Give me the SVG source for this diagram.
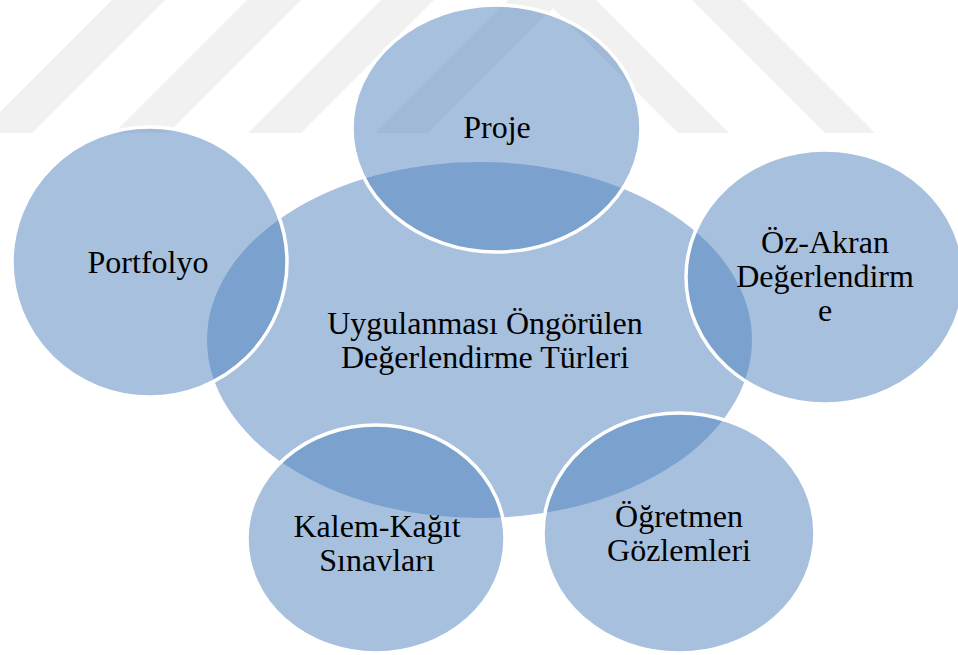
<svg xmlns="http://www.w3.org/2000/svg" width="958" height="655" viewBox="0 0 958 655">
  <style>
    .wm { fill: #F1F1F1; }
    .hub { fill: #4F81BD; fill-opacity: 0.5; }
    .sat { fill: #4F81BD; fill-opacity: 0.5; stroke: #FFFFFF; stroke-width: 3.5; }
    .lbl { font-family: "Liberation Serif", "Times New Roman", serif; font-size: 32px; fill: #000000; text-anchor: middle; }
  </style>
  <rect x="0" y="0" width="958" height="655" fill="#FFFFFF"/>
  <g id="watermark">
    <polygon class="wm" points="112,0 165,0 32,133 -21,133"/>
    <polygon class="wm" points="247,0 301,0 168,133 114,133"/>
    <polygon class="wm" points="381,0 434,0 301,133 248,133"/>
    <polygon class="wm" points="508,0 561,0 428,133 375,133"/>
    <polygon class="wm" points="545,0 596,0 729,133 678,133"/>
    <polygon class="wm" points="692,0 742,0 875,133 825,133"/>
  </g>
  <g id="hub">
    <ellipse class="hub" cx="479.5" cy="340" rx="272.5" ry="178"/>
    <text class="lbl" x="485" y="334">Uygulanması Öngörülen</text>
    <text class="lbl" x="485" y="368">Değerlendirme Türleri</text>
  </g>
  <g id="proje">
    <ellipse class="sat" cx="496.5" cy="128.5" rx="144.5" ry="123.5"/>
    <text class="lbl" x="497" y="138">Proje</text>
  </g>
  <g id="oz-akran">
    <ellipse class="sat" cx="825" cy="277" rx="139" ry="127"/>
    <text class="lbl" x="825" y="253">Öz-Akran</text>
    <text class="lbl" x="825" y="287">Değerlendirm</text>
    <text class="lbl" x="825" y="321">e</text>
  </g>
  <g id="ogretmen">
    <ellipse class="sat" cx="679" cy="533" rx="136" ry="120"/>
    <text class="lbl" x="679" y="527">Öğretmen</text>
    <text class="lbl" x="679" y="561">Gözlemleri</text>
  </g>
  <g id="kalem">
    <ellipse class="sat" cx="376" cy="539" rx="129" ry="114"/>
    <text class="lbl" x="377" y="537">Kalem-Kağıt</text>
    <text class="lbl" x="377" y="571">Sınavları</text>
  </g>
  <g id="portfolyo">
    <ellipse class="sat" cx="149.5" cy="262" rx="137.5" ry="135"/>
    <text class="lbl" x="148" y="273">Portfolyo</text>
  </g>
  <g id="connectors"></g>
</svg>
